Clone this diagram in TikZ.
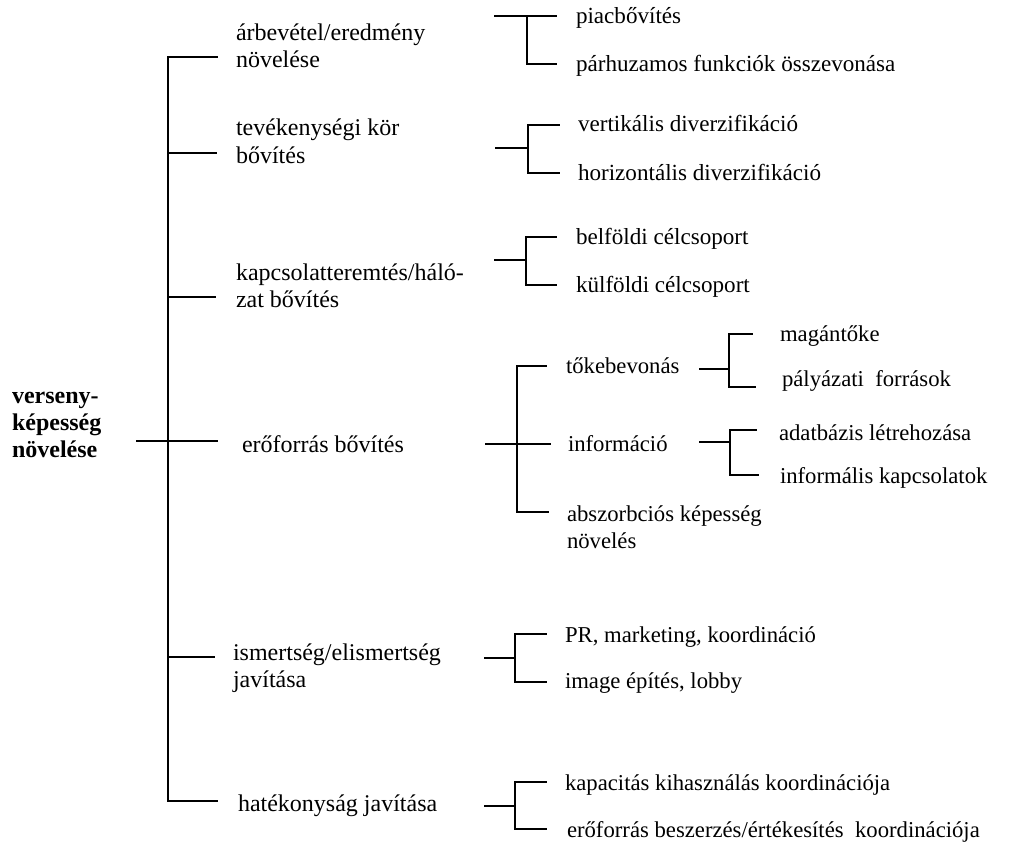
\documentclass[tikz,border=0pt]{standalone}
\usepackage{fontspec}
\setmainfont{Liberation Serif}
\begin{document}
\begin{tikzpicture}[x=0.5pt,y=-0.5pt,
  every node/.style={inner sep=0pt,outer sep=0pt,anchor=base west,font=\fontsize{12}{13.5}\selectfont},
  lbl/.style={align=left},
  leafA/.style={align=left,font=\fontsize{11.55}{13.5}\selectfont},
  leafB/.style={align=left,font=\fontsize{11.35}{13.2}\selectfont},
  rootlbl/.style={align=left,font=\fontsize{12}{13.5}\selectfont\bfseries},
  conn/.style={line width=1pt,line cap=rect}]
\useasboundingbox (0,0) rectangle (1020,845);

% ---------- texts (anchor = baseline of last line) ----------
\node[rootlbl] (root) at (12,457) {verseny-\\képesség\\növelése};

\node[lbl] (a1) at (236,68) {árbevétel/eredmény\\növelése};
\node[lbl] (a2) at (236,163) {tevékenységi kör\\bővítés};
\node[lbl] (a3) at (236,307) {kapcsolatteremtés/háló-\\zat bővítés};
\node[lbl] (a4) at (242,452) {erőforrás bővítés};
\node[lbl] (a5) at (233,687) {ismertség/elismertség\\javítása};
\node[lbl] (a6) at (238,811) {hatékonyság javítása};

\node[leafA] (b11) at (576,24) {piacbővítés};
\node[leafA] (b12) at (576,72) {párhuzamos funkciók összevonása};
\node[leafA] (b21) at (578,132) {vertikális diverzifikáció};
\node[leafA] (b22) at (578,180) {horizontális diverzifikáció};
\node[leafA] (b31) at (576,244) {belföldi célcsoport};
\node[leafA] (b32) at (576,292) {külföldi célcsoport};
\node[leafB] (b41) at (566,373) {tőkebevonás};
\node[leafB] (b42) at (568,451) {információ};
\node[leafB] (b43) at (567,548) {abszorbciós képesség\\növelés};
\node[leafB] (c411) at (780,341) {magántőke};
\node[leafB] (c412) at (782,386) {pályázati\ \ források};
\node[leafB] (c421) at (779,440) {adatbázis létrehozása};
\node[leafB] (c422) at (780,483) {informális kapcsolatok};
\node[leafB] (b51) at (565,642) {PR, marketing, koordináció};
\node[leafB] (b52) at (565,688) {image építés, lobby};
\node[leafB] (b61) at (565,790) {kapacitás kihasználás koordinációja};
\node[leafB] (b62) at (567,837) {erőforrás beszerzés/értékesítés\ \ koordinációja};

% ---------- level 1 tree ----------
\coordinate (r0) at (137,441);
\coordinate (t1) at (168,57);  \coordinate (e1) at (217,57);
\coordinate (t2) at (168,153); \coordinate (e2) at (216,153);
\coordinate (t3) at (168,297); \coordinate (e3) at (215,297);
\coordinate (t4) at (168,441); \coordinate (e4) at (217,441);
\coordinate (t5) at (168,657); \coordinate (e5) at (214,657);
\coordinate (t6) at (168,801); \coordinate (e6) at (217,801);
\draw[conn] (e1) -- (t1) -- (t6) -- (e6);
\draw[conn] (t2) -- (e2);
\draw[conn] (t3) -- (e3);
\draw[conn] (r0) -- (e4);
\draw[conn] (t5) -- (e5);

% ---------- group 1 ----------
\coordinate (g1s) at (495,16); \coordinate (g1j) at (527,16);
\coordinate (g1a) at (556,16); \coordinate (g1b) at (556,64);
\draw[conn] (g1s) -- (g1a);
\draw[conn] (g1j) |- (g1b);

% ---------- group 2 ----------
\coordinate (g2s) at (496,148); \coordinate (g2j) at (528,148);
\coordinate (g2t) at (528,125); \coordinate (g2a) at (559,125);
\coordinate (g2u) at (528,173); \coordinate (g2b) at (559,173);
\draw[conn] (g2s) -- (g2j);
\draw[conn] (g2a) -- (g2t) -- (g2u) -- (g2b);

% ---------- group 3 ----------
\coordinate (g3s) at (495,260); \coordinate (g3j) at (526,260);
\coordinate (g3t) at (526,237); \coordinate (g3a) at (556,237);
\coordinate (g3u) at (526,285); \coordinate (g3b) at (556,285);
\draw[conn] (g3s) -- (g3j);
\draw[conn] (g3a) -- (g3t) -- (g3u) -- (g3b);

% ---------- group 4 ----------
\coordinate (g4s) at (486,444); \coordinate (g4j) at (517,444);
\coordinate (g4t) at (517,366); \coordinate (g4a) at (546,366);
\coordinate (g4m) at (550,444);
\coordinate (g4u) at (517,512); \coordinate (g4b) at (548,512);
\draw[conn] (g4s) -- (g4m);
\draw[conn] (g4a) -- (g4t) -- (g4u) -- (g4b);

% sub 4a
\coordinate (h1s) at (700,369); \coordinate (h1j) at (729,369);
\coordinate (h1t) at (729,334); \coordinate (h1a) at (752,334);
\coordinate (h1u) at (729,387); \coordinate (h1b) at (755,387);
\draw[conn] (h1s) -- (h1j);
\draw[conn] (h1a) -- (h1t) -- (h1u) -- (h1b);

% sub 4b
\coordinate (h2s) at (700,442); \coordinate (h2j) at (730,442);
\coordinate (h2t) at (730,430); \coordinate (h2a) at (756,430);
\coordinate (h2u) at (730,475); \coordinate (h2b) at (758,475);
\draw[conn] (h2s) -- (h2j);
\draw[conn] (h2a) -- (h2t) -- (h2u) -- (h2b);

% ---------- group 5 ----------
\coordinate (g5s) at (485,658); \coordinate (g5j) at (515,658);
\coordinate (g5t) at (515,634); \coordinate (g5a) at (546,634);
\coordinate (g5u) at (515,682); \coordinate (g5b) at (546,682);
\draw[conn] (g5s) -- (g5j);
\draw[conn] (g5a) -- (g5t) -- (g5u) -- (g5b);

% ---------- group 6 ----------
\coordinate (g6s) at (485,806); \coordinate (g6j) at (515,806);
\coordinate (g6t) at (515,782); \coordinate (g6a) at (546,782);
\coordinate (g6u) at (515,829); \coordinate (g6b) at (546,829);
\draw[conn] (g6s) -- (g6j);
\draw[conn] (g6a) -- (g6t) -- (g6u) -- (g6b);
\end{tikzpicture}
\end{document}
